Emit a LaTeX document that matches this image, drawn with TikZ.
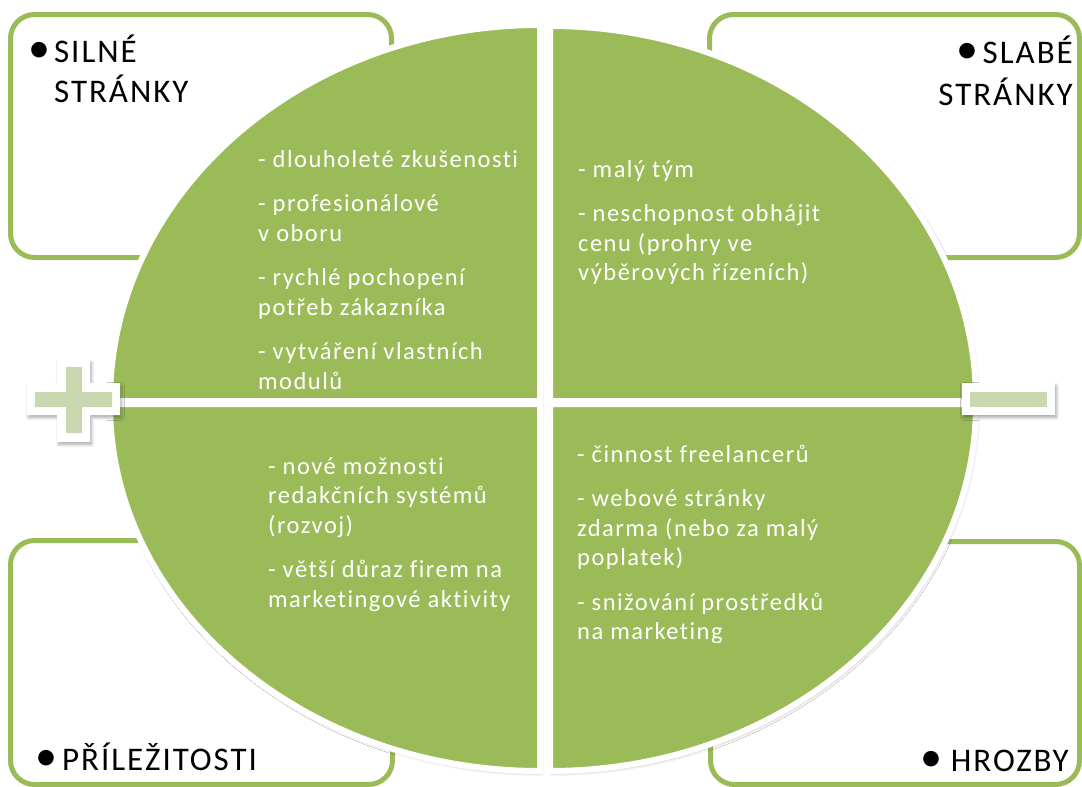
\documentclass[tikz,border=0pt]{standalone}
\usepackage{fontspec}
\setmainfont{Carlito}[LetterSpace=6, Ligatures=NoCommon]
\usetikzlibrary{shadows.blur}
\definecolor{swotgreen}{HTML}{9BBB59}
\definecolor{signgreen}{HTML}{C9D8B1}
\newcommand{\bigbullet}{{\fontsize{44}{40}\selectfont •}}

\begin{document}
\begin{tikzpicture}[x=1pt,y=-1pt,
  cornerbox/.style={draw=swotgreen, line width=5pt, rounded corners=24pt, fill=white},
  quarter/.style={fill=swotgreen, draw=white, line width=6pt,
    blur shadow={shadow xshift=1.5pt, shadow yshift=-2.5pt, shadow blur radius=3pt, shadow opacity=30}},
  signback/.style={fill=white,
    blur shadow={shadow xshift=1.5pt, shadow yshift=-2.5pt, shadow blur radius=3pt, shadow opacity=35}},
  signface/.style={fill=signgreen},
  itemtext/.style={text=white, font=\fontsize{24.5}{29.5}\selectfont, inner sep=0pt, anchor=base west},
  heading/.style={text=black, font=\fontsize{33}{40}\selectfont, inner sep=0pt},
]
\useasboundingbox (0,0) rectangle (1082,787);
\begin{scope}
\clip (0,0) rectangle (1082,787);

% corner frames
\draw[cornerbox] (10.5,14.5) rectangle (391.5,257.5);
\draw[cornerbox] (709.5,14.5) rectangle (1079.5,257.5);
\draw[cornerbox] (10.5,540.5) rectangle (392.5,784.5);
\draw[cornerbox] (710.5,541.5) rectangle (1079.5,784.5);

% four quarters of the central ellipse
\path[quarter] (540,401) -- (110,401)
  arc[start angle=180, end angle=270, x radius=430, y radius=376] -- cycle;
\path[quarter] (550,401) -- (550,26)
  arc[start angle=270, end angle=360, x radius=426, y radius=375] -- cycle;
\path[quarter] (540,404) -- (110,404)
  arc[start angle=180, end angle=90, x radius=430, y radius=367] -- cycle;
\path[quarter] (550,404) -- (976,404)
  arc[start angle=0, end angle=90, x radius=426, y radius=367] -- cycle;

% plus sign
\path[signback] (27,383) -- (57,383) -- (57,360) -- (90,360) -- (90,383) -- (120,383)
  -- (120,415) -- (90,415) -- (90,442) -- (57,442) -- (57,415) -- (27,415) -- cycle;
\path[signface] (35,392) -- (66,392) -- (66,367) -- (82,367) -- (82,392) -- (112,392)
  -- (112,407) -- (82,407) -- (82,433) -- (66,433) -- (66,407) -- (35,407) -- cycle;

% minus sign
\path[signback] (962,383) rectangle (1055,415);
\path[signface] (970,392) rectangle (1047,407);
\end{scope}

% headings
\node[heading, anchor=base west] (strengths) at (28,62)
  {\begin{tabular}[t]{@{}l@{\hspace{4pt}}l@{}}\bigbullet&SILNÉ\\&STRÁNKY\end{tabular}};
\node[heading, anchor=base east] (weaknesses) at (1073,63)
  {\begin{tabular}[t]{@{}r@{}}\bigbullet\hspace{4pt}SLABÉ\\[3pt]STRÁNKY\end{tabular}};
\node[heading, anchor=base west] (opportunities) at (35,770) {\bigbullet\hspace{5pt}PŘÍLEŽITOSTI};
\node[heading, anchor=base east] (threats) at (1069,771) {\bigbullet\hspace{9pt}HROZBY};

% quarter contents
\node[itemtext] (ul) at (258,167) {\begin{tabular}[t]{@{}l@{}}%
- dlouholeté zkušenosti\\[15pt]
- profesionálové\\v oboru\\[15pt]
- rychlé pochopení\\potřeb zákazníka\\[15pt]
- vytváření vlastních\\modulů\end{tabular}};

\node[itemtext] (ur) at (578,177) {\begin{tabular}[t]{@{}l@{}}%
- malý tým\\[15pt]
- neschopnost obhájit\\cenu (prohry ve\\výběrových řízeních)\end{tabular}};

\node[itemtext] (ll) at (268,474) {\begin{tabular}[t]{@{}l@{}}%
- nové možnosti\\redakčních systémů\\(rozvoj)\\[15pt]
- větší důraz firem na\\marketingové aktivity\end{tabular}};

\node[itemtext] (lr) at (577,462) {\begin{tabular}[t]{@{}l@{}}%
- činnost freelancerů\\[15pt]
- webové stránky\\zdarma (nebo za malý\\poplatek)\\[15pt]
- snižování prostředků\\na marketing\end{tabular}};
\end{tikzpicture}
\end{document}
